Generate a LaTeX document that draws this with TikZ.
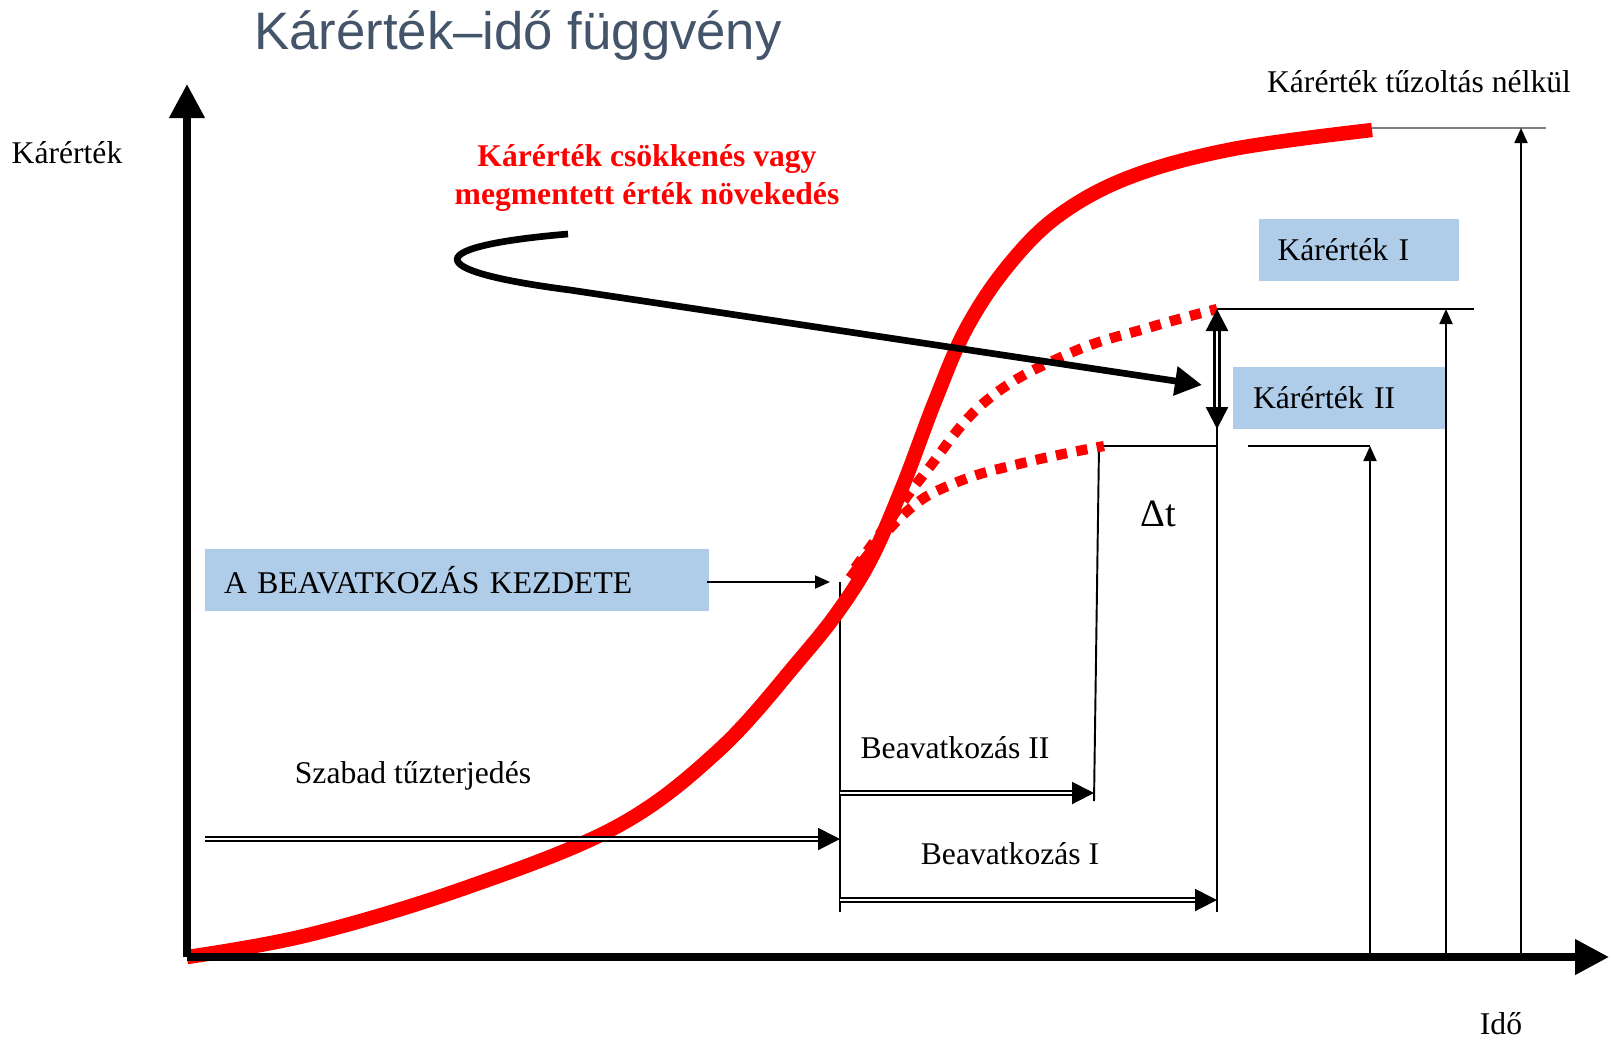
\documentclass[tikz,border=0pt]{standalone}
\usepackage{fontspec}
\setmainfont{Liberation Serif}
\newfontfamily\titlefont{Liberation Sans}
\usetikzlibrary{arrows.meta, positioning}
\definecolor{KARred}{HTML}{FF0000}
\definecolor{KARbox}{HTML}{AFCCE9}
\definecolor{KARtitle}{HTML}{44546A}
\newcommand\kartext{\fontsize{18}{21.5}\selectfont}
\tikzstyle{titletext} = [font=\titlefont\fontsize{30}{34}\selectfont, text=KARtitle, inner sep=0pt]
\tikzstyle{txt} = [font=\kartext, inner sep=0pt]
\tikzstyle{redtxt} = [font=\kartext\bfseries, text=KARred, align=center, inner sep=0pt]
\tikzstyle{box} = [rectangle, fill=KARbox, font=\kartext, align=left, minimum height=1.25cm, inner ysep=0pt]
\tikzstyle{axis} = [line width=4.2pt, -{Triangle[length=0.68cm, width=0.68cm]}]
\tikzstyle{thinline} = [line width=1.1pt]
\tikzstyle{arrow} = [thinline, -{Triangle[length=0.3cm, width=0.26cm]}]
\tikzstyle{dblarrow} = [double, double distance=1.1pt, line width=1.1pt, -{Triangle[length=0.44cm, width=0.44cm]}]
\tikzstyle{fire} = [KARred, line width=8.2pt]
\tikzstyle{firedot} = [KARred, line width=5.8pt, dash pattern=on 6.4pt off 5.4pt]

\begin{document}
\begin{tikzpicture}[x=0.02cm, y=-0.02cm]
\useasboundingbox (0,0) rectangle (1611,1039);

% axes
\coordinate (O) at (187,957);
\coordinate (ytop) at (187,84);
\coordinate (xend) at (1609,957);

\node (title) [titletext, anchor=west] at (254,36) {Kárérték–idő függvény};
\node (ylab) [txt] at (67,153) {Kárérték};
\node (xlab) [txt] at (1501,1024) {Idő};
\node (maxlab) [txt] at (1419,82) {Kárérték tűzoltás nélkül};
\node (redlab) [redtxt] at (647,178) {Kárérték csökkenés vagy\\megmentett érték növekedés};

\node (kar1) [box, minimum width=4cm, text width=3.26cm, inner xsep=0.37cm] at (1359,250) {Kárérték I};
\node (kar2) [box, minimum width=4.28cm, text width=3.48cm, inner xsep=0.4cm] at (1340,398) {Kárérték II};
\node (start) [box, minimum width=10.08cm, text width=9.32cm, inner xsep=0.38cm] at (457,580) {A BEAVATKOZÁS KEZDETE};

\node (szabad) [txt] at (413,776) {Szabad tűzterjedés};
\node (beav2) [txt] at (955,748) {Beavatkozás II};
\node (beav1) [txt] at (1010,854) {Beavatkozás I};
\node (dt) [txt, font=\fontsize{22}{24}\selectfont] at (1158,514) {Δt};

% levels and times
\coordinate (k0a) at (1372,128);
\coordinate (k0b) at (1546,128);
\coordinate (k1a) at (1217,309);
\coordinate (k1b) at (1474,309);
\coordinate (k1m) at (1217,429);
\coordinate (k2a) at (1099,446);
\coordinate (k2b) at (1217,446);
\coordinate (k2c) at (1248,446);
\coordinate (k2d) at (1370,446);
\coordinate (t0a) at (840,582);
\coordinate (t0b) at (840,912);
\coordinate (t2b) at (1094,801);
\coordinate (t1b) at (1217,912);
\coordinate (f0) at (1521,955);
\coordinate (f0t) at (1521,128);
\coordinate (f1) at (1446,955);
\coordinate (f1t) at (1446,309);
\coordinate (f2) at (1370,955);
\coordinate (f2t) at (1370,446);

\draw [thinline, gray] (k0a) -- (k0b);
\draw [thinline] (k1a) -- (k1b);
\draw [thinline] (k2a) -- (k2b);
\draw [thinline] (k2c) -- (k2d);
\draw [thinline] (k2a) -- (t2b);
\draw [thinline] (k1a) -- (t1b);
\draw [thinline] (t0a) -- (t0b);
\draw [arrow] (f0) -- (f0t);
\draw [arrow] (f1) -- (f1t);
\draw [arrow] (f2) -- (f2t);

% fire curves
\draw [fire] plot [smooth, tension=0.6] coordinates {(187,957) (308,935) (462,889) (616,827) (719,750) (801,658) (842,606) (873,555) (904,483) (935,401) (966,329) (1007,267) (1058,216) (1130,177) (1233,149) (1372,130)};
\draw [firedot] plot [smooth, tension=0.7] coordinates {(855,568) (890,520) (925,473) (986,401) (1068,354) (1151,327) (1217,309)};
\draw [firedot] plot [smooth, tension=0.7] coordinates {(850,578) (904,514) (955,483) (1027,462) (1104,446)};

% arrows
\draw [dblarrow, line width=1.4pt, double distance=1.4pt, {Triangle[length=0.44cm, width=0.44cm]}-{Triangle[length=0.44cm, width=0.44cm]}] (k1a) -- (k1m);
\draw [arrow] (start.east |- t0a) ++(-2,0) -- ([xshift=-0.2cm]t0a);
\coordinate (sz0) at (205,839);
\coordinate (sz1) at (840,839);
\coordinate (b20) at (840,793);
\coordinate (b21) at (1094,793);
\coordinate (b10) at (840,900);
\coordinate (b11) at (1217,900);
\draw [dblarrow] (sz0) -- (sz1);
\draw [dblarrow] (b20) -- (b21);
\draw [dblarrow] (b10) -- (b11);

\coordinate (hookstart) at (568,234);
\coordinate (hooktip) at (1202,385);
\draw [line width=3.8pt, -{Triangle[length=0.54cm, width=0.56cm]}] (hookstart) .. controls (425,246) and (415,270) .. (570,290) -- (hooktip);

\draw [axis] (O) -- (ytop);
\draw [axis] (O) -- (xend);
\end{tikzpicture}
\end{document}
